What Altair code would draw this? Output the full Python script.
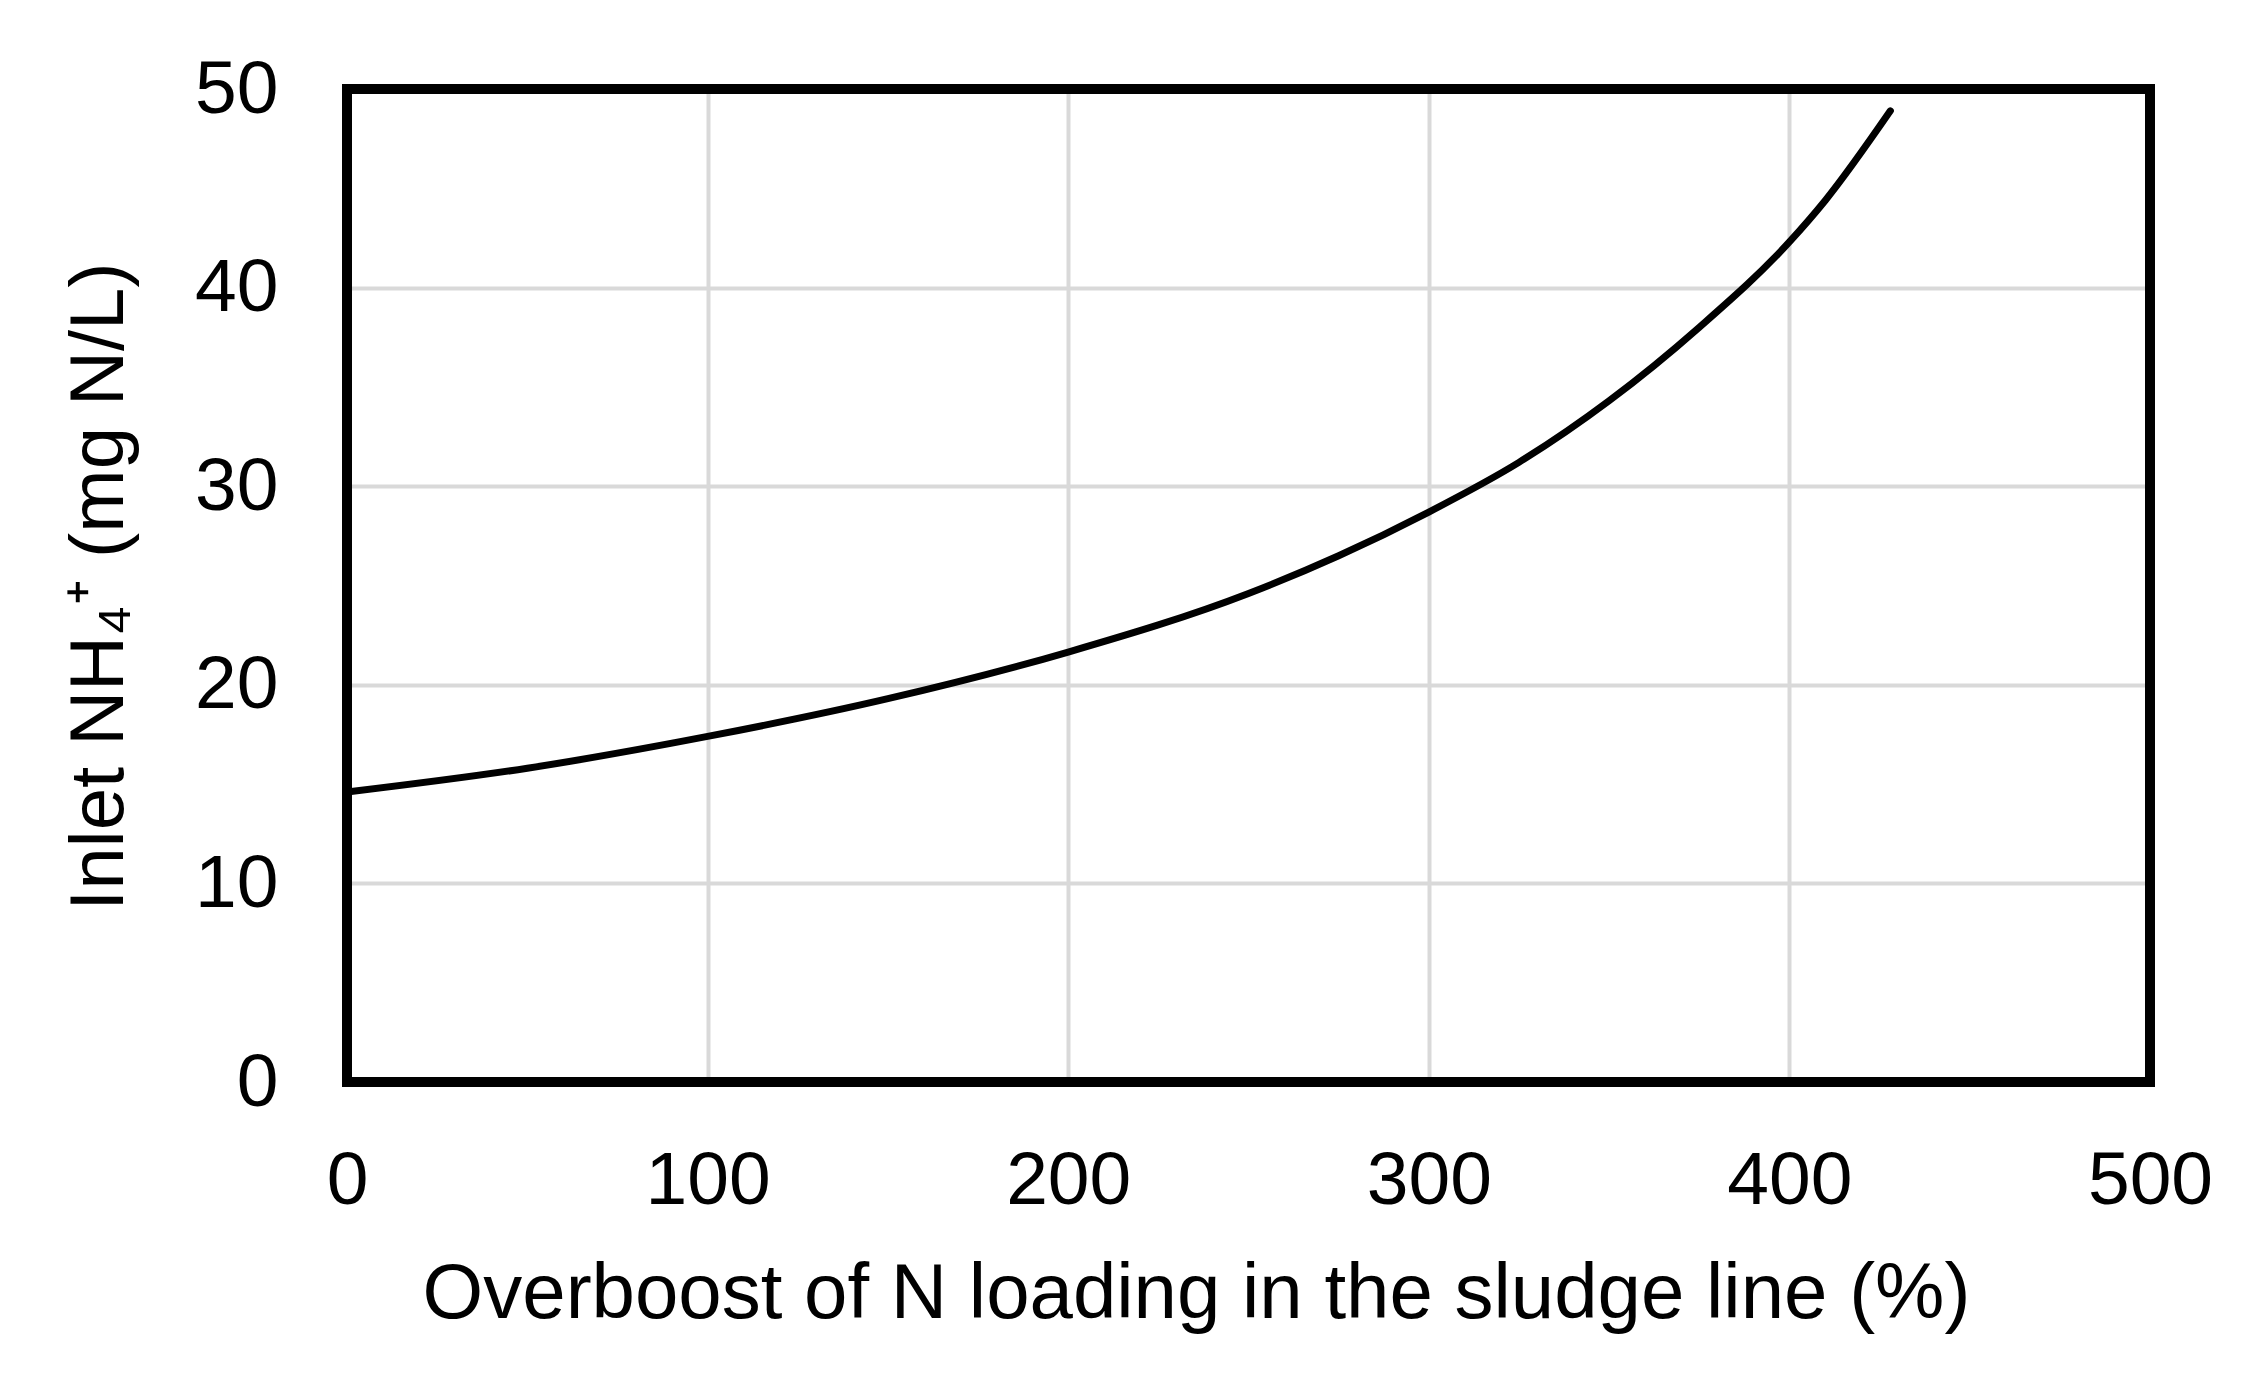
import altair as alt
import pandas as pd

# Data
overboost = [0, 50, 100, 150, 200, 250, 275, 300, 325, 350, 375, 400, 410, 428]
inlet_nh4 = [14.6, 15.8, 17.4, 19.3, 21.65, 24.6, 26.5, 28.7, 31.2, 34.3, 38.0, 42.3, 44.4, 48.9]

x_ticks = [0, 100, 200, 300, 400, 500]
y_ticks = [0, 10, 20, 30, 40, 50]

x_title = "Overboost of N loading in the sludge line (%)"
y_title = "Inlet NH\u2084\u207a (mg N/L)"

df = pd.DataFrame({"x": overboost, "y": inlet_nh4})

W, H = 1803, 993
FONT = "Liberation Sans"

line = alt.Chart(df).mark_line(
    color="black", strokeWidth=7, interpolate="monotone", strokeCap="round"
).encode(
    x=alt.X(
        "x:Q",
        scale=alt.Scale(domain=[0, 500], nice=False, zero=True),
        axis=alt.Axis(
            values=x_ticks, title=x_title, grid=True, gridColor="#d9d9d9", gridWidth=4,
            domain=False, ticks=False, tickSize=0,
            labelFont=FONT, labelFontSize=75, labelColor="black", labelPadding=62,
            labelFlush=False, labelOverlap=False,
            titleFont=FONT, titleFontSize=78, titleFontWeight="normal", titleColor="black",
            titleX=849, titleY=235, titleBaseline="alphabetic", titleAlign="center",
        ),
    ),
    y=alt.Y(
        "y:Q",
        scale=alt.Scale(domain=[0, 50], nice=False, zero=True),
        axis=alt.Axis(
            values=y_ticks, title=y_title, grid=True, gridColor="#d9d9d9", gridWidth=4,
            domain=False, ticks=False, tickSize=0,
            labelFont=FONT, labelFontSize=75, labelColor="black", labelPadding=69,
            labelFlush=False, labelOverlap=False,
            titleFont=FONT, titleFontSize=76, titleFontWeight="normal", titleColor="black",
            titleX=-225, titleY=497, titleAngle=-90, titleBaseline="alphabetic", titleAlign="center",
        ),
    ),
)

frame = alt.Chart(df).mark_rect(
    fill="white", fillOpacity=0, stroke="black", strokeWidth=10, strokeJoin="miter"
).encode(
    x=alt.value(0), x2=alt.value(W), y=alt.value(0), y2=alt.value(H)
)

chart = alt.layer(line, frame).properties(
    width=W,
    height=H,
    padding={"left": 339, "top": 81, "right": 80, "bottom": 270},
    autosize=alt.AutoSizeParams(type="none"),
    background="white",
).configure_view(stroke=None)

chart.save("out.html", embed_options={"renderer": "svg", "actions": False})
